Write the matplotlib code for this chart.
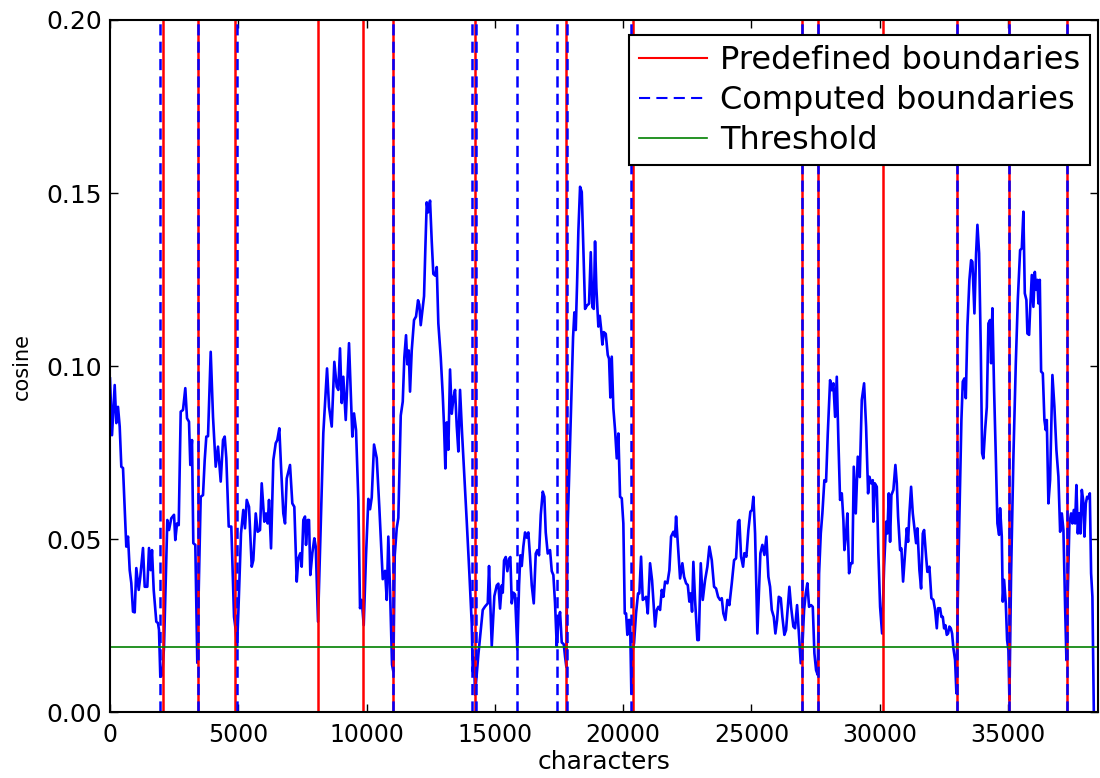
import matplotlib
matplotlib.use("Agg")
import matplotlib.pyplot as plt
from matplotlib.lines import Line2D

plt.rcParams["font.family"] = ["DejaVu Sans"]
plt.rcParams["lines.scale_dashes"] = False

# position in the text (characters) and cosine similarity
chars = [
    0, 78, 183, 246, 312, 378, 441, 507, 635, 702, 768, 830, 897, 963, 1025, 1119, 1181, 1286, 1353, 1454,
    1520, 1586, 1637, 1703, 1805, 1871, 1910, 1961, 2039, 2105, 2234, 2300, 2389, 2495, 2545, 2612, 2678, 2756, 2846, 2935,
    3001, 3079, 3130, 3196, 3247, 3325, 3403, 3458, 3535, 3625, 3691, 3754, 3820, 3925, 4015, 4120, 4210, 4315, 4405, 4471,
    4533, 4627, 4728, 4834, 4900, 4950, 5001, 5106, 5196, 5262, 5329, 5418, 5524, 5586, 5680, 5757, 5847, 5913, 6015, 6081,
    6147, 6198, 6276, 6366, 6459, 6521, 6599, 6666, 6755, 6822, 6888, 6950, 7016, 7106, 7184, 7278, 7340, 7418, 7472, 7535,
    7601, 7640, 7706, 7757, 7808, 7886, 7964, 8018, 8108, 8225, 8314, 8381, 8459, 8537, 8642, 8743, 8837, 8899, 8965, 9032,
    9094, 9188, 9316, 9394, 9445, 9511, 9589, 9679, 9745, 9811, 9889, 9979, 10069, 10135, 10201, 10291, 10396, 10498, 10630, 10720,
    10786, 10848, 10914, 10992, 11043, 11098, 11176, 11238, 11332, 11410, 11472, 11538, 11589, 11644, 11694, 11760, 11850, 11928, 12006, 12057,
    12111, 12189, 12240, 12291, 12345, 12396, 12435, 12474, 12540, 12602, 12680, 12735, 12797, 12891, 12969, 13019, 13070, 13125, 13187, 13253,
    13320, 13382, 13448, 13514, 13577, 13643, 13721, 13799, 13904, 14005, 14099, 14138, 14189, 14228, 14293, 14357, 14450, 14528, 14618, 14723,
    14773, 14879, 14980, 15074, 15136, 15202, 15269, 15308, 15358, 15424, 15487, 15553, 15604, 15658, 15721, 15787, 15876, 15943, 15994, 16048,
    16110, 16177, 16243, 16305, 16372, 16438, 16516, 16594, 16656, 16722, 16789, 16867, 16929, 16983, 17061, 17151, 17218, 17280, 17346, 17412,
    17475, 17541, 17607, 17685, 17736, 17787, 17826, 17892, 17970, 18048, 18099, 18153, 18204, 18255, 18321, 18387, 18449, 18516, 18593, 18671,
    18738, 18800, 18855, 18905, 18956, 19034, 19088, 19139, 19190, 19244, 19322, 19400, 19451, 19502, 19556, 19619, 19685, 19751, 19814, 19880,
    19946, 20008, 20063, 20114, 20164, 20219, 20270, 20320, 20375, 20425, 20503, 20581, 20632, 20698, 20765, 20843, 20893, 20960, 21049, 21127,
    21244, 21310, 21373, 21439, 21505, 21568, 21634, 21724, 21802, 21868, 21958, 22024, 22063, 22129, 22219, 22308, 22375, 22453, 22519, 22581,
    22636, 22686, 22737, 22803, 22893, 22948, 23025, 23103, 23193, 23283, 23361, 23454, 23544, 23622, 23700, 23778, 23844, 23906, 23984, 24062,
    24140, 24234, 24324, 24401, 24479, 24530, 24596, 24674, 24725, 24803, 24881, 24959, 25025, 25076, 25142, 25232, 25298, 25349, 25427, 25505,
    25583, 25661, 25727, 25793, 25871, 25934, 26000, 26066, 26144, 26206, 26284, 26350, 26417, 26479, 26545, 26635, 26701, 26779, 26857, 26923,
    26986, 27052, 27118, 27180, 27247, 27325, 27391, 27454, 27520, 27586, 27637, 27703, 27765, 27843, 27909, 27976, 28066, 28132, 28194, 28261,
    28327, 28389, 28455, 28522, 28584, 28623, 28689, 28740, 28806, 28873, 28935, 28989, 29067, 29145, 29223, 29301, 29391, 29469, 29547, 29598,
    29664, 29730, 29753, 29808, 29886, 29948, 30015, 30093, 30171, 30249, 30299, 30354, 30404, 30455, 30533, 30611, 30666, 30716, 30794, 30845,
    30911, 30978, 31056, 31106, 31157, 31223, 31289, 31352, 31418, 31469, 31547, 31613, 31679, 31730, 31808, 31858, 31936, 32014, 32092, 32159,
    32225, 32275, 32353, 32404, 32459, 32509, 32559, 32614, 32665, 32716, 32770, 32821, 32872, 32938, 32989, 33043, 33106, 33184, 33238, 33301,
    33355, 33418, 33496, 33562, 33613, 33691, 33757, 33808, 33874, 33940, 33991, 34041, 34108, 34174, 34236, 34302, 34341, 34392, 34458, 34525,
    34587, 34653, 34692, 34758, 34797, 34848, 34914, 34965, 35016, 35055, 35121, 35211, 35304, 35382, 35472, 35538, 35600, 35655, 35717, 35756,
    35823, 35862, 35928, 35990, 36045, 36095, 36146, 36185, 36239, 36290, 36357, 36419, 36473, 36512, 36575, 36641, 36731, 36809, 36887, 36965,
    37032, 37098, 37160, 37226, 37277, 37332, 37394, 37460, 37511, 37565, 37616, 37666, 37721, 37772, 37822, 37877, 37928, 37978, 38033, 38083,
    38134, 38189, 38239, 38290, 38344,
]

cosine = [
    .0964, .080, .0945, .0835, .0882, .0825, .0709, .0705, .0478, .0507, .041, .0373, .029, .0288, .0416, .0353, .0391, .0474, .0362, .0362,
    .0474, .041, .0468, .0353, .0261, .0257, .0237, .0102, .0107, .0189, .0555, .0526, .056, .057, .0497, .0545, .054, .0868, .0873, .0936,
    .0849, .0839, .0714, .0786, .0488, .0483, .0142, .0353, .0622, .0627, .0728, .0796, .0797, .1041, .0853, .0709, .0767, .0666, .0786, .0796,
    .0734, .0536, .0536, .0275, .0237, .0189, .0285, .0516, .0584, .0531, .0613, .0593, .042, .0439, .0574, .0521, .0526, .0661, .055, .0574,
    .0545, .0613, .0473, .0728, .0777, .0786, .082, .0709, .0574, .0545, .0675, .0694, .0714, .0603, .0593, .0377, .0444, .0459, .042, .0555,
    .0565, .0483, .0555, .0555, .0396, .0459, .0502, .0478, .0261, .0574, .0806, .0893, .0993, .0882, .0825, .1012, .094, .0931, .1051, .0893,
    .0969, .0844, .1066, .0902, .0796, .0863, .0815, .0613, .03, .0324, .0251, .0453, .0616, .0586, .062, .0773, .0734, .059, .0384, .0408,
    .0324, .0507, .0354, .0137, .0117, .0453, .0532, .0561, .0857, .0897, .1025, .1089, .1005, .1045, .0926, .1045, .1133, .1143, .119, .1177,
    .1118, .1168, .1202, .134, .1473, .1444, .1459, .1478, .136, .1266, .1261, .1286, .1123, .1025, .0916, .0827, .0704, .0837, .0758, .099,
    .0862, .0906, .0931, .0827, .0753, .0931, .0807, .0699, .0551, .0403, .0255, .0117, .0157, .005, .0107, .0166, .0236, .0295, .0305, .0314,
    .0422, .0191, .0335, .0366, .0371, .0299, .0366, .0345, .0438, .0448, .0407, .0443, .0448, .0314, .0345, .034, .0181, .0366, .0453, .0422,
    .0478, .0519, .0504, .0519, .0448, .0366, .0314, .0458, .0468, .0453, .057, .0637, .0622, .0519, .0458, .0468, .0407, .0396, .0314, .0191,
    .0263, .0289, .0201, .0196, .016, .013, .0509, .0673, .0878, .1083, .1155, .1104, .1237, .139, .1518, .1503, .1339, .1165, .1175, .118,
    .1329, .117, .1165, .136, .1226, .1114, .1145, .1109, .1062, .1098, .1093, .1032, .1021, .0909, .1027, .0878, .0815, .0733, .0805, .0622,
    .0618, .0545, .0285, .0285, .0223, .0266, .0266, .0054, .0179, .0199, .0285, .0343, .0343, .0449, .0324, .0329, .0333, .0285, .043, .0381,
    .0247, .0295, .0304, .0295, .0353, .0333, .0377, .0372, .041, .0507, .0521, .0507, .0565, .0488, .0386, .043, .0391, .0372, .0367, .0319,
    .0343, .029, .0434, .0324, .0208, .0208, .043, .0324, .0381, .042, .0478, .0439, .0362, .0357, .0333, .0324, .0329, .0285, .0266, .0324,
    .0309, .0372, .0439, .0444, .055, .0555, .0449, .042, .0459, .0449, .0526, .0579, .0584, .0622, .0516, .0227, .0362, .0459, .0483, .0454,
    .0507, .0391, .0362, .0295, .0275, .0227, .0266, .0333, .0329, .0275, .0223, .0237, .0304, .0362, .0304, .0247, .0242, .0309, .0218, .0141,
    .0189, .0295, .0343, .0372, .0304, .0309, .0304, .017, .0121, .0107, .0401, .0516, .0574, .067, .0666, .0805, .0959, .093, .095, .0853,
    .0969, .0786, .0613, .0632, .0555, .0468, .0516, .0574, .0401, .043, .043, .0709, .0574, .0738, .0679, .0902, .095, .0825, .0632, .068,
    .0661, .067, .055, .0661, .0651, .0459, .0304, .0227, .042, .055, .0516, .0632, .0492, .0627, .0642, .0714, .0661, .0565, .0468, .0473,
    .0377, .0449, .0531, .0492, .0574, .0651, .0574, .0531, .0488, .0531, .041, .0357, .0516, .0526, .0449, .0405, .042, .0329, .0324, .0295,
    .0242, .03, .03, .0275, .0275, .0242, .0251, .0223, .0227, .0247, .0242, .0227, .0184, .015, .0054, .0324, .0565, .0844, .0955, .0964,
    .0907, .1114, .1249, .1306, .1301, .1152, .1326, .1408, .1326, .1046, .0748, .0733, .0815, .0881, .1123, .1133, .1008, .1167, .0931, .0738,
    .0545, .0512, .0589, .0507, .0319, .0382, .0314, .0208, .0179, .0035, .0401, .0738, .1008, .1191, .1335, .134, .1446, .121, .1191, .1094,
    .109, .1162, .1263, .1171, .1272, .122, .1249, .1181, .1249, .0984, .0979, .0844, .0815, .0844, .0603, .0671, .0974, .0882, .0757, .068,
    .0521, .0574, .0526, .0304, .015, .0353, .0545, .0574, .0545, .0584, .0545, .0656, .0516, .0574, .0516, .0642, .0613, .0507, .0603, .0622,
    .0618, .0632, .0401, .0333, .0006,
]

predefined = [2077, 3418, 4860, 8095, 9861, 11030, 14226, 17773, 20372,
              26957, 27608, 30116, 33000, 35052, 37288]
computed = [1949, 3418, 4938, 11030, 14121, 14265, 15875, 17410, 17812,
            20306, 26957, 27608, 33000, 35030, 37288]
threshold = 0.0188

fig = plt.figure(figsize=(11, 7.78), dpi=100)
ax = fig.add_axes([0.1, 0.0848, 0.898, 0.8895])

ax.plot(chars, cosine, color="#0000ff", lw=1.9)

for b in predefined:
    ax.axvline(b, color="#ff0000", lw=1.8)
for b in computed:
    ax.axvline(b, color="#0000ff", lw=1.8, dashes=(8, 4.5))
ax.axhline(threshold, color="#008000", lw=1.2)

ax.set_xlim(0, 38500)
ax.set_ylim(0, 0.20)
ax.set_xticks([0, 5000, 10000, 15000, 20000, 25000, 30000, 35000])
ax.set_yticks([0.00, 0.05, 0.10, 0.15, 0.20])
ax.set_yticklabels(["0.00", "0.05", "0.10", "0.15", "0.20"])

for s in ax.spines.values():
    s.set_linewidth(1.5)
ax.tick_params(direction="in", length=6, width=1, top=True, right=True)
ax.tick_params(axis="x", labelsize=17, pad=8)
ax.tick_params(axis="y", labelsize=18, pad=6)

ax.set_xlabel("characters", fontsize=18, labelpad=2)
ax.set_ylabel("cosine", fontsize=15, labelpad=10)

handles = [
    Line2D([], [], color="#ff0000", lw=1.5),
    Line2D([], [], color="#0000ff", lw=1.5, dashes=(8, 4.5)),
    Line2D([], [], color="#008000", lw=1.2),
]
labels = ["Predefined boundaries", "Computed boundaries", "Threshold"]
leg = ax.legend(handles, labels, loc="upper right", bbox_to_anchor=(0.992, 0.978),
                borderaxespad=0, fontsize=23, fancybox=False, framealpha=1,
                edgecolor="black", labelspacing=0.28, borderpad=0.3,
                handlelength=2.15, handletextpad=0.4)
leg.get_frame().set_linewidth(1.5)

fig.savefig("out.png", dpi=100)
